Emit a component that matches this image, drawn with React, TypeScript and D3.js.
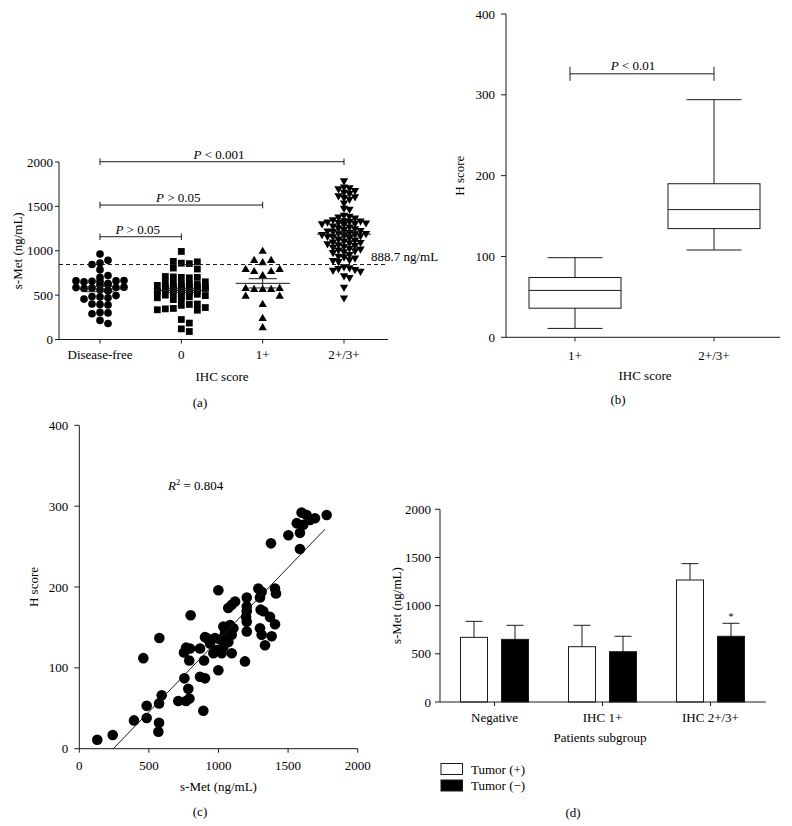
import React from 'react';
import * as d3 from 'd3';

const FONT = "'Liberation Serif', 'Times New Roman', Times, serif";
const INK = '#1a1a1a';
const FS = 13;

// (a) s-Met by IHC score
const ihcGroups = ['Disease-free', '0', '1+', '2+/3+'];
const diseaseFree = [963, 862, 892, 845, 787, 720, 700, 655, 660, 650, 665, 660, 655, 625, 630, 620, 585, 590, 580, 585, 575, 560, 555, 550, 480, 485, 470, 495, 455, 395, 400, 390, 305, 300, 290, 215, 180];
const ihc0 = [992, 860, 855, 880, 875, 805, 794, 700, 695, 705, 700, 710, 650, 640, 635, 630, 625, 620, 610, 600, 600, 595, 590, 585, 580, 575, 570, 565, 560, 555, 550, 545, 540, 530, 525, 520, 510, 500, 495, 490, 480, 470, 460, 450, 395, 400, 385, 350, 345, 360, 335, 330, 225, 185, 120, 90];
const ihc1 = [992, 865, 890, 890, 719, 764, 764, 787, 787, 562, 562, 562, 573, 573, 487, 487, 393, 236, 131];
const ihc23 = [1790, 1720, 1710, 1700, 1680, 1660, 1650, 1620, 1610, 1600, 1580, 1540, 1480, 1470, 1400, 1390, 1380, 1370,
  1350, 1340, 1335, 1330, 1325, 1320, 1315, 1310, 1305, 1300, 1280, 1270, 1260, 1250, 1240, 1230, 1225, 1220, 1210,
  1200, 1195, 1190, 1185, 1180, 1175, 1170, 1165, 1160, 1150, 1130, 1120, 1110, 1100, 1095, 1090, 1080, 1070, 1060,
  1050, 1040, 1030, 1020, 1010, 1000, 990, 980, 960, 940, 930, 920, 900, 890, 880, 820, 810, 800, 790, 780, 770,
  720, 700, 590, 470];
const groupValues = [diseaseFree, ihc0, ihc1, ihc23];
const cutoffDrawn = 845;
const cutoffLabel = '888.7 ng/mL';
const bracketsA = [
  { from: 0, to: 3, y: 2003, text: ' < 0.001' },
  { from: 0, to: 2, y: 1515, text: ' > 0.05' },
  { from: 0, to: 1, y: 1158, text: ' > 0.05' },
];

// (b) H score box plot
const boxGroups = ['1+', '2+/3+'];
const boxStats = [
  { min: 11, q1: 36, median: 58, q3: 74, max: 98.5 },
  { min: 108, q1: 134.5, median: 158, q3: 190, max: 294 },
];

// (c) correlation s-Met vs H score
const corrPoints: [number, number][] = [
  [129, 11], [240, 17], [393, 35], [484, 38], [484, 53], [460, 112], [573, 32], [568, 21], [573, 56], [592, 66],
  [575, 137], [711, 59], [767, 59], [791, 62], [783, 74], [755, 87], [891, 47], [867, 89], [903, 87], [800, 165],
  [767, 125], [795, 124], [752, 119], [790, 109], [867, 124], [903, 138], [896, 109], [999, 97], [1190, 108], [975, 137],
  [999, 196], [1095, 178], [1070, 174], [1119, 182], [1203, 187], [1286, 198], [1310, 194], [1298, 187], [1406, 198],
  [1413, 192], [1203, 176], [1203, 170], [1198, 163], [1203, 157], [1303, 172], [1322, 170], [1370, 163], [1406, 154],
  [1298, 149], [1310, 141], [1382, 139], [1334, 128], [1203, 145], [1035, 151], [1083, 153], [1107, 149], [1047, 143],
  [1095, 141], [1011, 135], [1071, 132], [1035, 126], [987, 122], [939, 130], [915, 137], [963, 118], [1023, 118],
  [1095, 118], [1597, 292], [1633, 289], [1693, 285], [1777, 289], [1562, 279], [1609, 277], [1657, 283], [1585, 267],
  [1502, 264], [1377, 254], [1585, 247],
];
const fit = { slope: 0.1785, intercept: -43.6, xFrom: 244, xTo: 1765 };
const r2 = '0.804';

// (d) s-Met by patients subgroup
const subgroups = ['Negative', 'IHC 1+', 'IHC 2+/3+'];
const tumorKeys = ['Tumor (+)', 'Tumor (\u2212)'];
const tumorPos = [671, 574, 1266];
const tumorPosErr = [166, 222, 170];
const tumorNeg = [650, 522, 682];
const tumorNegErr = [146, 160, 135];

// column scatter layout: nearest free slot to the centre, capped at maxHalf
function swarm(values: number[], y: (v: number) => number, step: number, dyThr: number, maxHalf: number) {
  const placed: { x: number; y: number }[] = [];
  const slots: number[] = [0];
  for (let k = 1; (k * step) / 2 <= maxHalf; k++) slots.push((k * step) / 2, (-k * step) / 2);
  return values.map(v => {
    const py = y(v);
    let best = 0;
    let bestHits = Infinity;
    for (const cand of slots) {
      const hits = placed.filter(p => Math.abs(p.x - cand) < step - 0.01 && Math.abs(p.y - py) < dyThr).length;
      if (hits < bestHits) { best = cand; bestHits = hits; }
      if (hits === 0) break;
    }
    placed.push({ x: best, y: py });
    return { v, dx: best };
  });
}

const PVal = ({ x, y, text }: { x: number; y: number; text: string }) => (
  <text x={x} y={y} textAnchor="middle">
    <tspan fontStyle="italic">P</tspan>{text}
  </text>
);

function PanelA() {
  const y = d3.scaleLinear().domain([0, 2000]).range([339.5, 162]);
  const x = d3.scalePoint<string>().domain(ihcGroups).range([100, 344]);
  const markers = [
    d3.symbol().type(d3.symbolCircle).size(46)()!,
    d3.symbol().type(d3.symbolSquare).size(46)()!,
    d3.symbol().type(d3.symbolTriangle).size(30)()!,
    d3.symbol().type(d3.symbolTriangle).size(30)()!,
  ];
  const steps = [8, 8, 8.5, 5.5];
  const thr = [6.5, 6, 7, 5];
  const maxHalf = [24, 24, 18, 26];
  return (
    <g>
      {groupValues.map((vals, gi) => {
        const cx = x(ihcGroups[gi])!;
        const pts = swarm(vals, y, steps[gi], thr[gi], maxHalf[gi]);
        const m = d3.mean(vals)!;
        const sem = d3.deviation(vals)! / Math.sqrt(vals.length);
        return (
          <g key={gi}>
            {pts.map((p, i) => (
              <path key={i} d={markers[gi]} fill="#000"
                transform={`translate(${cx + p.dx},${y(p.v)})${gi === 3 ? ' rotate(180)' : ''}`} />
            ))}
            <g stroke={INK} strokeWidth={1}>
              <line x1={cx - 27} x2={cx + 27} y1={y(m)} y2={y(m)} />
              <line x1={cx - 14} x2={cx + 14} y1={y(m + sem)} y2={y(m + sem)} />
              <line x1={cx - 14} x2={cx + 14} y1={y(m - sem)} y2={y(m - sem)} />
              <line x1={cx} x2={cx} y1={y(m + sem)} y2={y(m - sem)} />
            </g>
          </g>
        );
      })}
      <line x1={59} x2={388} y1={y(cutoffDrawn)} y2={y(cutoffDrawn)} stroke={INK} strokeDasharray="4,3" />
      <text x={371} y={y(cutoffDrawn) - 4}>{cutoffLabel}</text>
      {bracketsA.map((b, i) => {
        const x1 = x(ihcGroups[b.from])!;
        const x2 = x(ihcGroups[b.to])!;
        const by = y(b.y);
        return (
          <g key={i}>
            <path d={`M${x1},${by - 3.3}V${by + 3.3}M${x1},${by}H${x2}M${x2},${by - 3.3}V${by + 3.3}`} stroke={INK} fill="none" />
            <PVal x={(x1 + x2) / 2 - 3} y={by - 3} text={b.text} />
          </g>
        );
      })}
      <line x1={59} x2={59} y1={y(2000)} y2={y(0)} stroke={INK} />
      <line x1={59} x2={388} y1={y(0)} y2={y(0)} stroke={INK} />
      {y.ticks(4).map(t => (
        <g key={t}>
          <line x1={55} x2={59} y1={y(t)} y2={y(t)} stroke={INK} />
          <text x={53} y={y(t)} dy="0.35em" textAnchor="end">{t}</text>
        </g>
      ))}
      {ihcGroups.map(g => (
        <g key={g}>
          <line x1={x(g)} x2={x(g)} y1={y(0)} y2={y(0) + 4} stroke={INK} />
          <text x={x(g)} y={359} textAnchor="middle">{g}</text>
        </g>
      ))}
      <text x={222} y={381} textAnchor="middle">IHC score</text>
      <text x={200} y={407} textAnchor="middle">(a)</text>
      <text transform={`translate(17,${(y(0) + y(2000)) / 2}) rotate(-90)`} dy="0.35em" textAnchor="middle">s-Met (ng/mL)</text>
    </g>
  );
}

function PanelB() {
  const y = d3.scaleLinear().domain([0, 400]).range([337.3, 14]);
  const x = d3.scalePoint<string>().domain(boxGroups).range([575, 714]);
  const bw = 92;
  const cap = 55;
  return (
    <g>
      {boxStats.map((s, i) => {
        const cx = x(boxGroups[i])!;
        return (
          <g key={i} stroke={INK} fill="none">
            <rect x={cx - bw / 2} y={y(s.q3)} width={bw} height={y(s.q1) - y(s.q3)} fill="#fff" />
            <line x1={cx - bw / 2} x2={cx + bw / 2} y1={y(s.median)} y2={y(s.median)} />
            <line x1={cx} x2={cx} y1={y(s.q3)} y2={y(s.max)} />
            <line x1={cx} x2={cx} y1={y(s.q1)} y2={y(s.min)} />
            <line x1={cx - cap / 2} x2={cx + cap / 2} y1={y(s.max)} y2={y(s.max)} />
            <line x1={cx - cap / 2} x2={cx + cap / 2} y1={y(s.min)} y2={y(s.min)} />
          </g>
        );
      })}
      {(() => {
        const by = y(326);
        const x1 = x('1+')! - 5;
        const x2 = x('2+/3+')!;
        return (
          <g>
            <path d={`M${x1},${by - 7}V${by + 7}M${x1},${by}H${x2}M${x2},${by - 7}V${by + 7}`} stroke={INK} fill="none" />
            <PVal x={633} y={by - 4} text=" < 0.01" />
          </g>
        );
      })()}
      <line x1={506} x2={506} y1={y(400)} y2={y(0)} stroke={INK} />
      <line x1={506} x2={780} y1={y(0)} y2={y(0)} stroke={INK} />
      {y.ticks(4).map(t => (
        <g key={t}>
          <line x1={501} x2={506} y1={y(t)} y2={y(t)} stroke={INK} />
          <text x={495} y={y(t)} dy="0.35em" textAnchor="end">{t}</text>
        </g>
      ))}
      {boxGroups.map(g => (
        <g key={g}>
          <line x1={x(g)} x2={x(g)} y1={y(0)} y2={y(0) + 4} stroke={INK} />
          <text x={x(g)} y={360} textAnchor="middle">{g}</text>
        </g>
      ))}
      <text x={645} y={380} textAnchor="middle">IHC score</text>
      <text x={618} y={404} textAnchor="middle">(b)</text>
      <text transform={`translate(459,${(y(0) + y(400)) / 2}) rotate(-90)`} dy="0.35em" textAnchor="middle">H score</text>
    </g>
  );
}

function PanelC() {
  const x = d3.scaleLinear().domain([0, 2000]).range([79.3, 357.7]);
  const y = d3.scaleLinear().domain([0, 400]).range([748.7, 425.3]);
  const fitLine = d3.line<number>().x(v => x(v)).y(v => y(fit.slope * v + fit.intercept));
  return (
    <g>
      {corrPoints.map(([sx, hy], i) => (
        <circle key={i} cx={x(sx)} cy={y(hy)} r={5.3} fill="#000" />
      ))}
      <path d={fitLine([fit.xFrom, fit.xTo])!} stroke={INK} fill="none" />
      <text x={168} y={490}>
        <tspan fontStyle="italic">R</tspan>
        <tspan dy={-5} fontSize={8.5}>2</tspan>
        <tspan dy={5}> = {r2}</tspan>
      </text>
      <line x1={x(0)} x2={x(0)} y1={y(400)} y2={y(0)} stroke={INK} />
      <line x1={x(0)} x2={x(2000)} y1={y(0)} y2={y(0)} stroke={INK} />
      {y.ticks(4).map(t => (
        <g key={t}>
          <line x1={x(0) - 5} x2={x(0)} y1={y(t)} y2={y(t)} stroke={INK} />
          <text x={x(0) - 11} y={y(t)} dy="0.35em" textAnchor="end">{t}</text>
        </g>
      ))}
      {x.ticks(4).map(t => (
        <g key={t}>
          <line x1={x(t)} x2={x(t)} y1={y(0)} y2={y(0) + 4} stroke={INK} />
          <text x={x(t)} y={770} textAnchor="middle">{t}</text>
        </g>
      ))}
      <text x={218.5} y={791} textAnchor="middle">s-Met (ng/mL)</text>
      <text x={200} y={816} textAnchor="middle">(c)</text>
      <text transform={`translate(33,${(y(0) + y(400)) / 2}) rotate(-90)`} dy="0.35em" textAnchor="middle">H score</text>
    </g>
  );
}

function PanelD() {
  const y = d3.scaleLinear().domain([0, 2000]).range([702, 509.3]);
  const x = d3.scaleBand<string>().domain(subgroups).range([440.5, 764.5]);
  const inner = d3.scaleBand<string>().domain(tumorKeys).range([20, 88]).paddingInner(14 / 41);
  const series = [
    { key: tumorKeys[0], vals: tumorPos, errs: tumorPosErr, fill: '#fff' },
    { key: tumorKeys[1], vals: tumorNeg, errs: tumorNegErr, fill: '#000' },
  ];
  const bw = inner.bandwidth();
  return (
    <g>
      {series.map(s => subgroups.map((g, i) => {
        const bx = x(g)! + inner(s.key)!;
        const cx = bx + bw / 2;
        return (
          <g key={s.key + g} stroke={INK}>
            <line x1={cx} x2={cx} y1={y(s.vals[i])} y2={y(s.vals[i] + s.errs[i])} />
            <line x1={cx - 8.5} x2={cx + 8.5} y1={y(s.vals[i] + s.errs[i])} y2={y(s.vals[i] + s.errs[i])} />
            <rect x={bx} y={y(s.vals[i])} width={bw} height={y(0) - y(s.vals[i])} fill={s.fill} />
          </g>
        );
      }))}
      <text x={x('IHC 2+/3+')! + inner(tumorKeys[1])! + bw / 2} y={y(tumorNeg[2] + tumorNegErr[2]) - 3}
        textAnchor="middle" fontSize={10}>*</text>
      <line x1={440} x2={440} y1={y(2000)} y2={y(0)} stroke={INK} />
      <line x1={440} x2={765.7} y1={y(0)} y2={y(0)} stroke={INK} />
      {y.ticks(4).map(t => (
        <g key={t}>
          <line x1={435} x2={440} y1={y(t)} y2={y(t)} stroke={INK} />
          <text x={431} y={y(t)} dy="0.35em" textAnchor="end">{t}</text>
        </g>
      ))}
      {subgroups.map(g => (
        <g key={g}>
          <line x1={x(g)! + x.bandwidth() / 2} x2={x(g)! + x.bandwidth() / 2} y1={y(0)} y2={y(0) + 4} stroke={INK} />
          <text x={x(g)! + x.bandwidth() / 2} y={722} textAnchor="middle">{g}</text>
        </g>
      ))}
      <text x={600} y={742} textAnchor="middle">Patients subgroup</text>
      <text x={573} y={817} textAnchor="middle">(d)</text>
      <text transform={`translate(396,${(y(0) + y(2000)) / 2}) rotate(-90)`} dy="0.35em" textAnchor="middle">s-Met (ng/mL)</text>
      {series.map((s, i) => (
        <g key={s.key}>
          <rect x={441} y={763.5 + i * 16.5} width={21.5} height={11} fill={s.fill} stroke={INK} />
          <text x={471} y={773.5 + i * 16.5}>{s.key}</text>
        </g>
      ))}
    </g>
  );
}

export default function App() {
  return (
    <svg width={792} height={826} style={{ position: 'absolute', left: 0, top: 0, background: '#fff' }}
      fontFamily={FONT} fontSize={FS} fill="#000">
      <PanelA />
      <PanelB />
      <PanelC />
      <PanelD />
    </svg>
  );
}
